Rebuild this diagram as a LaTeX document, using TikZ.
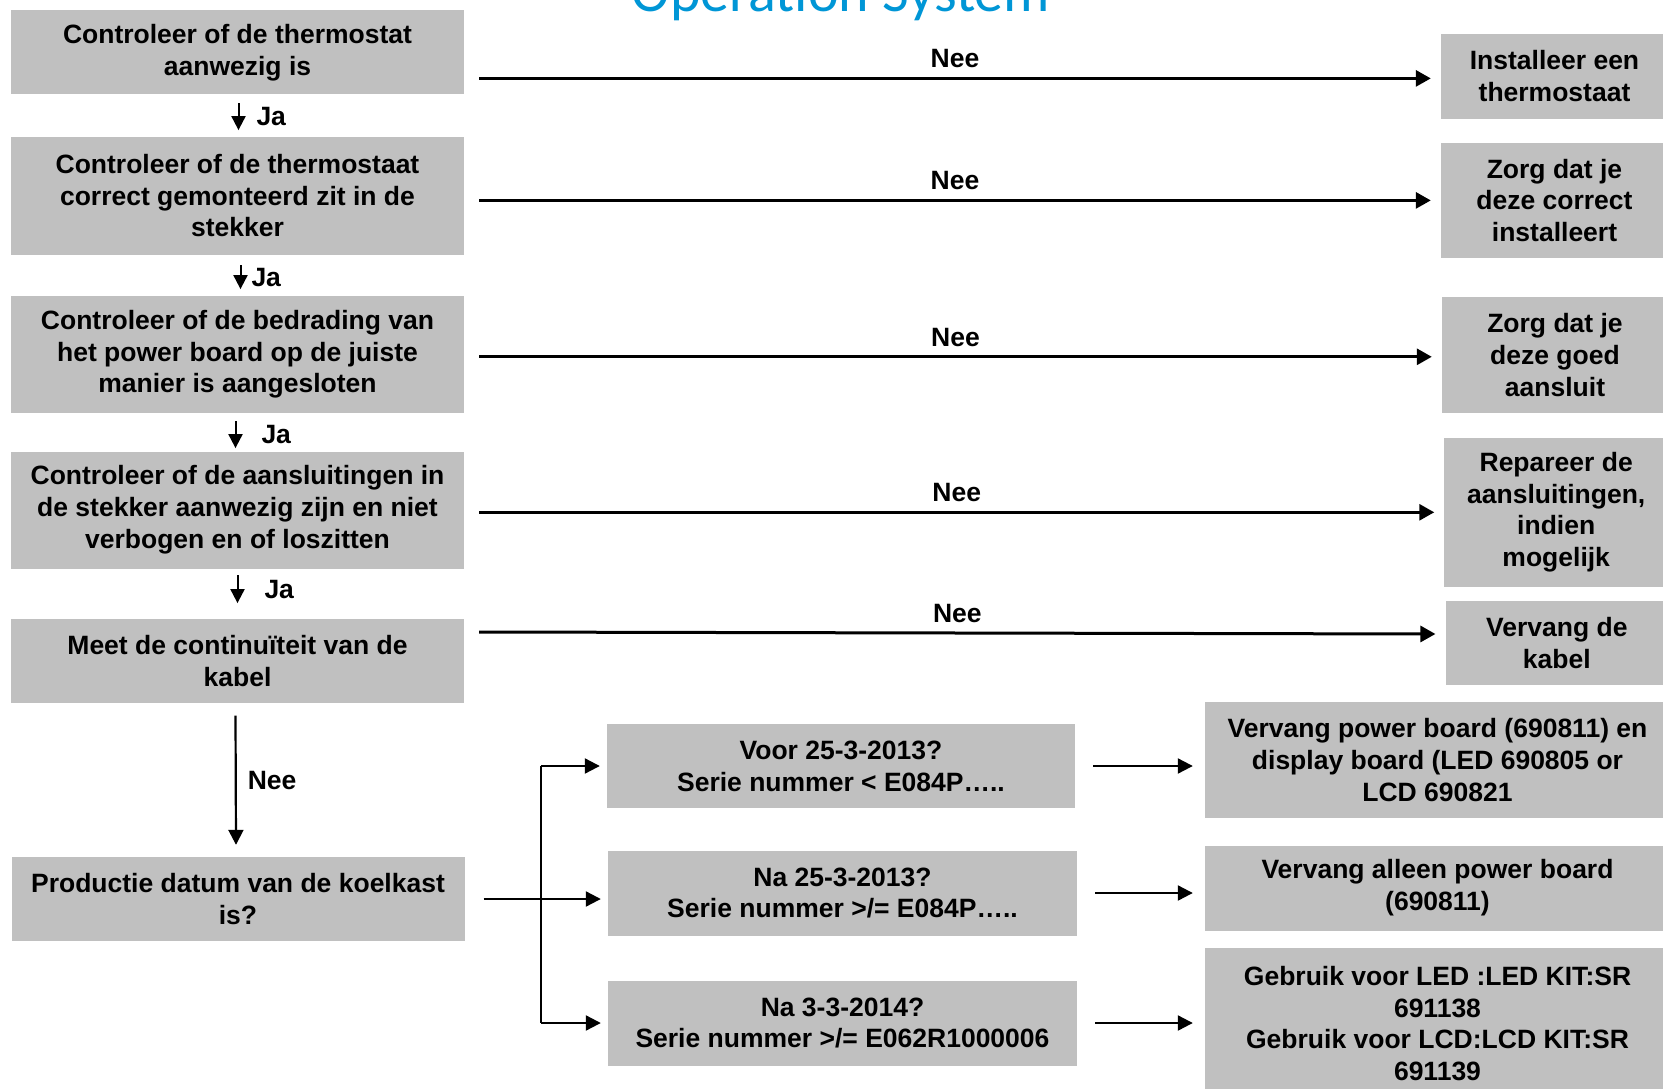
\documentclass[tikz,border=0pt]{standalone}
\usepackage{fontspec}
\setmainfont{Liberation Sans}
\newfontfamily\titlefont{Carlito}
\usepackage{xcolor}
\usepackage{tikz}
\usetikzlibrary{arrows.meta,positioning,calc}
\definecolor{boxgray}{RGB}{192,192,192}
\definecolor{titleblue}{RGB}{0,150,214}
\tikzset{
  flowbox/.style={fill=boxgray, align=center, inner sep=0pt, font=\bfseries\fontsize{26.5}{31.8}\selectfont},
  leftbox/.style={flowbox, minimum width=453pt},
  answer/.style={inner sep=0pt, font=\bfseries\fontsize{26.5}{31.8}\selectfont},
  neearrow/.style={line width=3pt, -{Triangle[length=15pt,width=16pt]}},
  jaarrow/.style={line width=2pt, -{Triangle[length=14pt,width=14pt]}},
  thinarrow/.style={line width=2.2pt, -{Triangle[length=15pt,width=15pt]}},
}

\begin{document}
\begin{tikzpicture}[x=1pt,y=-1pt]
  \useasboundingbox (0,0) rectangle (1663,1089);
  \node[anchor=base, text=titleblue, font=\titlefont\fontsize{58}{60}\selectfont] (title) at (841,11.7) {Operation System};
  % checks on the left
  \node[leftbox, minimum height=84pt]  (check1) at (237.5,52.5)  {Controleer of de thermostat\\aanwezig is};
  \node[leftbox, minimum height=118pt] (check2) at (237.5,195.6) {Controleer of de thermostaat\\correct gemonteerd zit in de\\stekker};
  \node[leftbox, minimum height=117pt] (check3) at (237.5,354.3) {Controleer of de bedrading van\\het power board op de juiste\\manier is aangesloten};
  \node[leftbox, minimum height=117pt] (check4) at (237.5,510)   {Controleer of de aansluitingen in\\de stekker aanwezig zijn en niet\\verbogen en of loszitten};
  \node[leftbox, minimum height=84pt]  (check5) at (237.5,661.3) {Meet de continuïteit van de\\kabel};
  \node[leftbox, minimum height=84pt]  (check6) at (238,899)     {Productie datum van de koelkast\\is?};
  % fixes on the right
  \node[flowbox, minimum width=227pt, minimum height=85pt]    (fix1) at (1554.5,76.4)  {Installeer een\\thermostaat};
  \node[flowbox, minimum width=227pt, minimum height=115pt]   (fix2) at (1554.5,200.4) {Zorg dat je\\deze correct\\installeert};
  \node[flowbox, minimum width=226pt, minimum height=116pt]   (fix3) at (1555,354.8)   {Zorg dat je\\deze goed\\aansluit};
  \node[flowbox, minimum width=223.5pt, minimum height=148.5pt] (fix4) at (1556.2,512.3) {Repareer de\\aansluitingen,\\indien\\mogelijk};
  \node[flowbox, minimum width=222.4pt, minimum height=84pt]  (fix5) at (1556.8,643)   {Vervang de\\kabel};
  % production dates
  \node[flowbox, minimum width=468pt, minimum height=84pt] (date1) at (841,766)    {Voor 25-3-2013?\\Serie nummer < E084P…..};
  \node[flowbox, minimum width=469pt, minimum height=85pt] (date2) at (842.5,893)  {Na 25-3-2013?\\Serie nummer >/= E084P…..};
  \node[flowbox, minimum width=469pt, minimum height=85pt] (date3) at (842.5,1023) {Na 3-3-2014?\\Serie nummer >/= E062R1000006};
  % parts to replace
  \node[flowbox, minimum width=465pt, minimum height=116pt] (part1) at (1437.5,760)    {Vervang power board (690811) en\\display board (LED 690805 or\\LCD 690821};
  \node[flowbox, minimum width=465pt, minimum height=85pt]  (part2) at (1437.5,888)    {Vervang alleen power board\\(690811)};
  \node[flowbox, minimum width=465pt, minimum height=152pt] (part3) at (1437.5,1023.5) {Gebruik voor LED :LED KIT:SR\\691138\\Gebruik voor LCD:LCD KIT:SR\\691139};

  % Nee branches
  \foreach \i/\s/\e in {1/2/2, 2/0/0, 3/2/2, 4/0/0, 5/-11/-9}
    \draw[neearrow] ($(check\i.east |- fix\i.west)+(15,\s)$) -- node[answer, anchor=south, yshift=9pt] {Nee} ($(fix\i.west)+(-10,\e)$);
  % Ja steps
  \foreach \a/\b/\dx/\s/\e/\g in {1/2/1/8.5/6.3/17, 2/3/3/10.5/6.5/10, 3/4/-2/8.4/3.2/25, 4/5/0/6.5/16/26}
    \draw[jaarrow] ($(check\a.south)+(\dx,\s)$) -- node[answer, anchor=west, xshift=\g pt] {Ja} ($(check\b.north)+(\dx,-\e)$);
  \draw[thinarrow] ($(check5.south)+(-2,12)$) -- node[answer, anchor=west, xshift=11pt] {Nee} ($(check6.north)+(-2,-12)$);

  % date fork
  \coordinate (fork) at (541,899);
  \draw[thinarrow] ($(check6.east)+(19,0)$) -- ($(check6.east -| date2.west)+(-7,0)$);
  \draw[line width=2.2pt] (fork |- date1.west) -- (fork |- date3.west);
  \draw[thinarrow] (fork |- date1.west) -- ($(date1.west)+(-7,0)$);
  \draw[thinarrow] (fork |- date3.west) -- ($(date3.west)+(-7,0)$);
  \foreach \i in {1,2,3}
    \draw[thinarrow] ($(date\i.east)+(18,0)$) -- ($(date\i.east -| part\i.west)+(-12,0)$);
\end{tikzpicture}
\end{document}
